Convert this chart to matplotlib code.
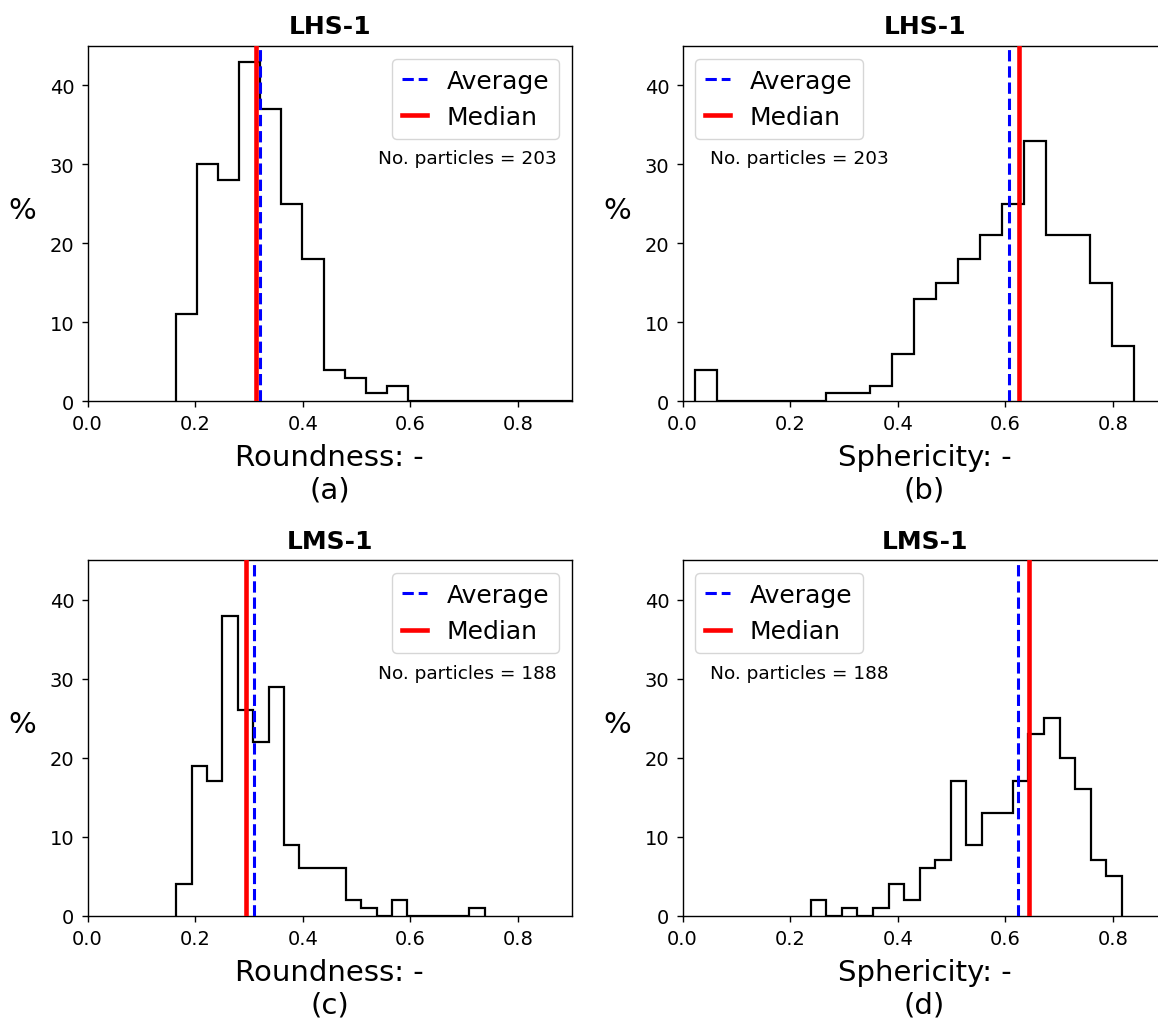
import numpy as np
import matplotlib
matplotlib.use("Agg")
import matplotlib.pyplot as plt

# counts per bin (20 bins between min and max of each sample)
round_lhs = [11, 30, 28, 43, 37, 25, 18, 4, 3, 1, 2, 0, 0, 0, 0, 0, 0, 0, 0, 1]
spher_lhs = [4, 0, 0, 0, 0, 0, 1, 1, 2, 6, 13, 15, 18, 21, 25, 33, 21, 21, 15, 7]
round_lms = [4, 19, 17, 38, 26, 22, 29, 9, 6, 6, 6, 2, 1, 0, 2, 0, 0, 0, 0, 1]
spher_lms = [2, 0, 1, 0, 1, 4, 2, 6, 7, 17, 9, 13, 13, 17, 23, 25, 20, 16, 7, 5]

# data range (min, max) of each sample
range_round_lhs = (0.165, 0.947)
range_spher_lhs = (0.0226, 0.8388)
range_round_lms = (0.1647, 0.738)
range_spher_lms = (0.2385, 0.8164)

averages = [0.320, 0.606, 0.309, 0.624]
medians = [0.313, 0.625, 0.294, 0.644]
n_particles = [203, 203, 188, 188]
titles = ["LHS-1", "LHS-1", "LMS-1", "LMS-1"]
xlabels = ["Roundness: -\n(a)", "Sphericity: -\n(b)", "Roundness: -\n(c)", "Sphericity: -\n(d)"]

counts = [round_lhs, spher_lhs, round_lms, spher_lms]
ranges = [range_round_lhs, range_spher_lhs, range_round_lms, range_spher_lms]

W, H = 1158, 1020
fig = plt.figure(figsize=(W / 100, H / 100), dpi=100)

ax_w, ax_h = 484.2, 355.3
lefts = [87.5, 682.5, 87.5, 682.5]
bottoms = [402.3, 402.3, 916.7, 916.7]

for i in range(4):
    ax = fig.add_axes([lefts[i] / W, 1 - bottoms[i] / H, ax_w / W, ax_h / H])
    lo, hi = ranges[i]
    edges = np.linspace(lo, hi, len(counts[i]) + 1)
    ax.stairs(counts[i], edges, color="k", lw=1.6)
    ax.axvline(medians[i], color="red", lw=3.3, label="Median", zorder=3)
    ax.axvline(averages[i], color="blue", ls="--", lw=2.2, label="Average", zorder=4)
    ax.set_xlim(0, 0.9)
    ax.set_ylim(0, 45)
    ax.set_xticks([0.0, 0.2, 0.4, 0.6, 0.8])
    ax.set_yticks([0, 10, 20, 30, 40])
    ax.tick_params(labelsize=14, length=4.5, width=1.0, pad=5)
    for s in ax.spines.values():
        s.set_linewidth(1.0)
    ax.set_title(titles[i], fontsize=18, fontweight="bold", pad=9)
    ax.set_xlabel(xlabels[i], fontsize=21, labelpad=7)
    ax.set_ylabel("%", fontsize=21, rotation=0)
    ax.yaxis.set_label_coords(-0.135, 0.5)
    handles, labels = ax.get_legend_handles_labels()
    order = [1, 0]
    right = (i % 2 == 0)
    ax.legend([handles[k] for k in order], [labels[k] for k in order],
              loc="upper right" if right else "upper left", fontsize=18,
              handlelength=1.0, borderaxespad=0.5)
    if right:
        ax.text(0.969, 0.684, "No. particles = %d" % n_particles[i], transform=ax.transAxes,
                ha="right", va="center", fontsize=13.3)
    else:
        ax.text(0.057, 0.684, "No. particles = %d" % n_particles[i], transform=ax.transAxes,
                ha="left", va="center", fontsize=13.3)

fig.savefig("out.png", dpi=100)
